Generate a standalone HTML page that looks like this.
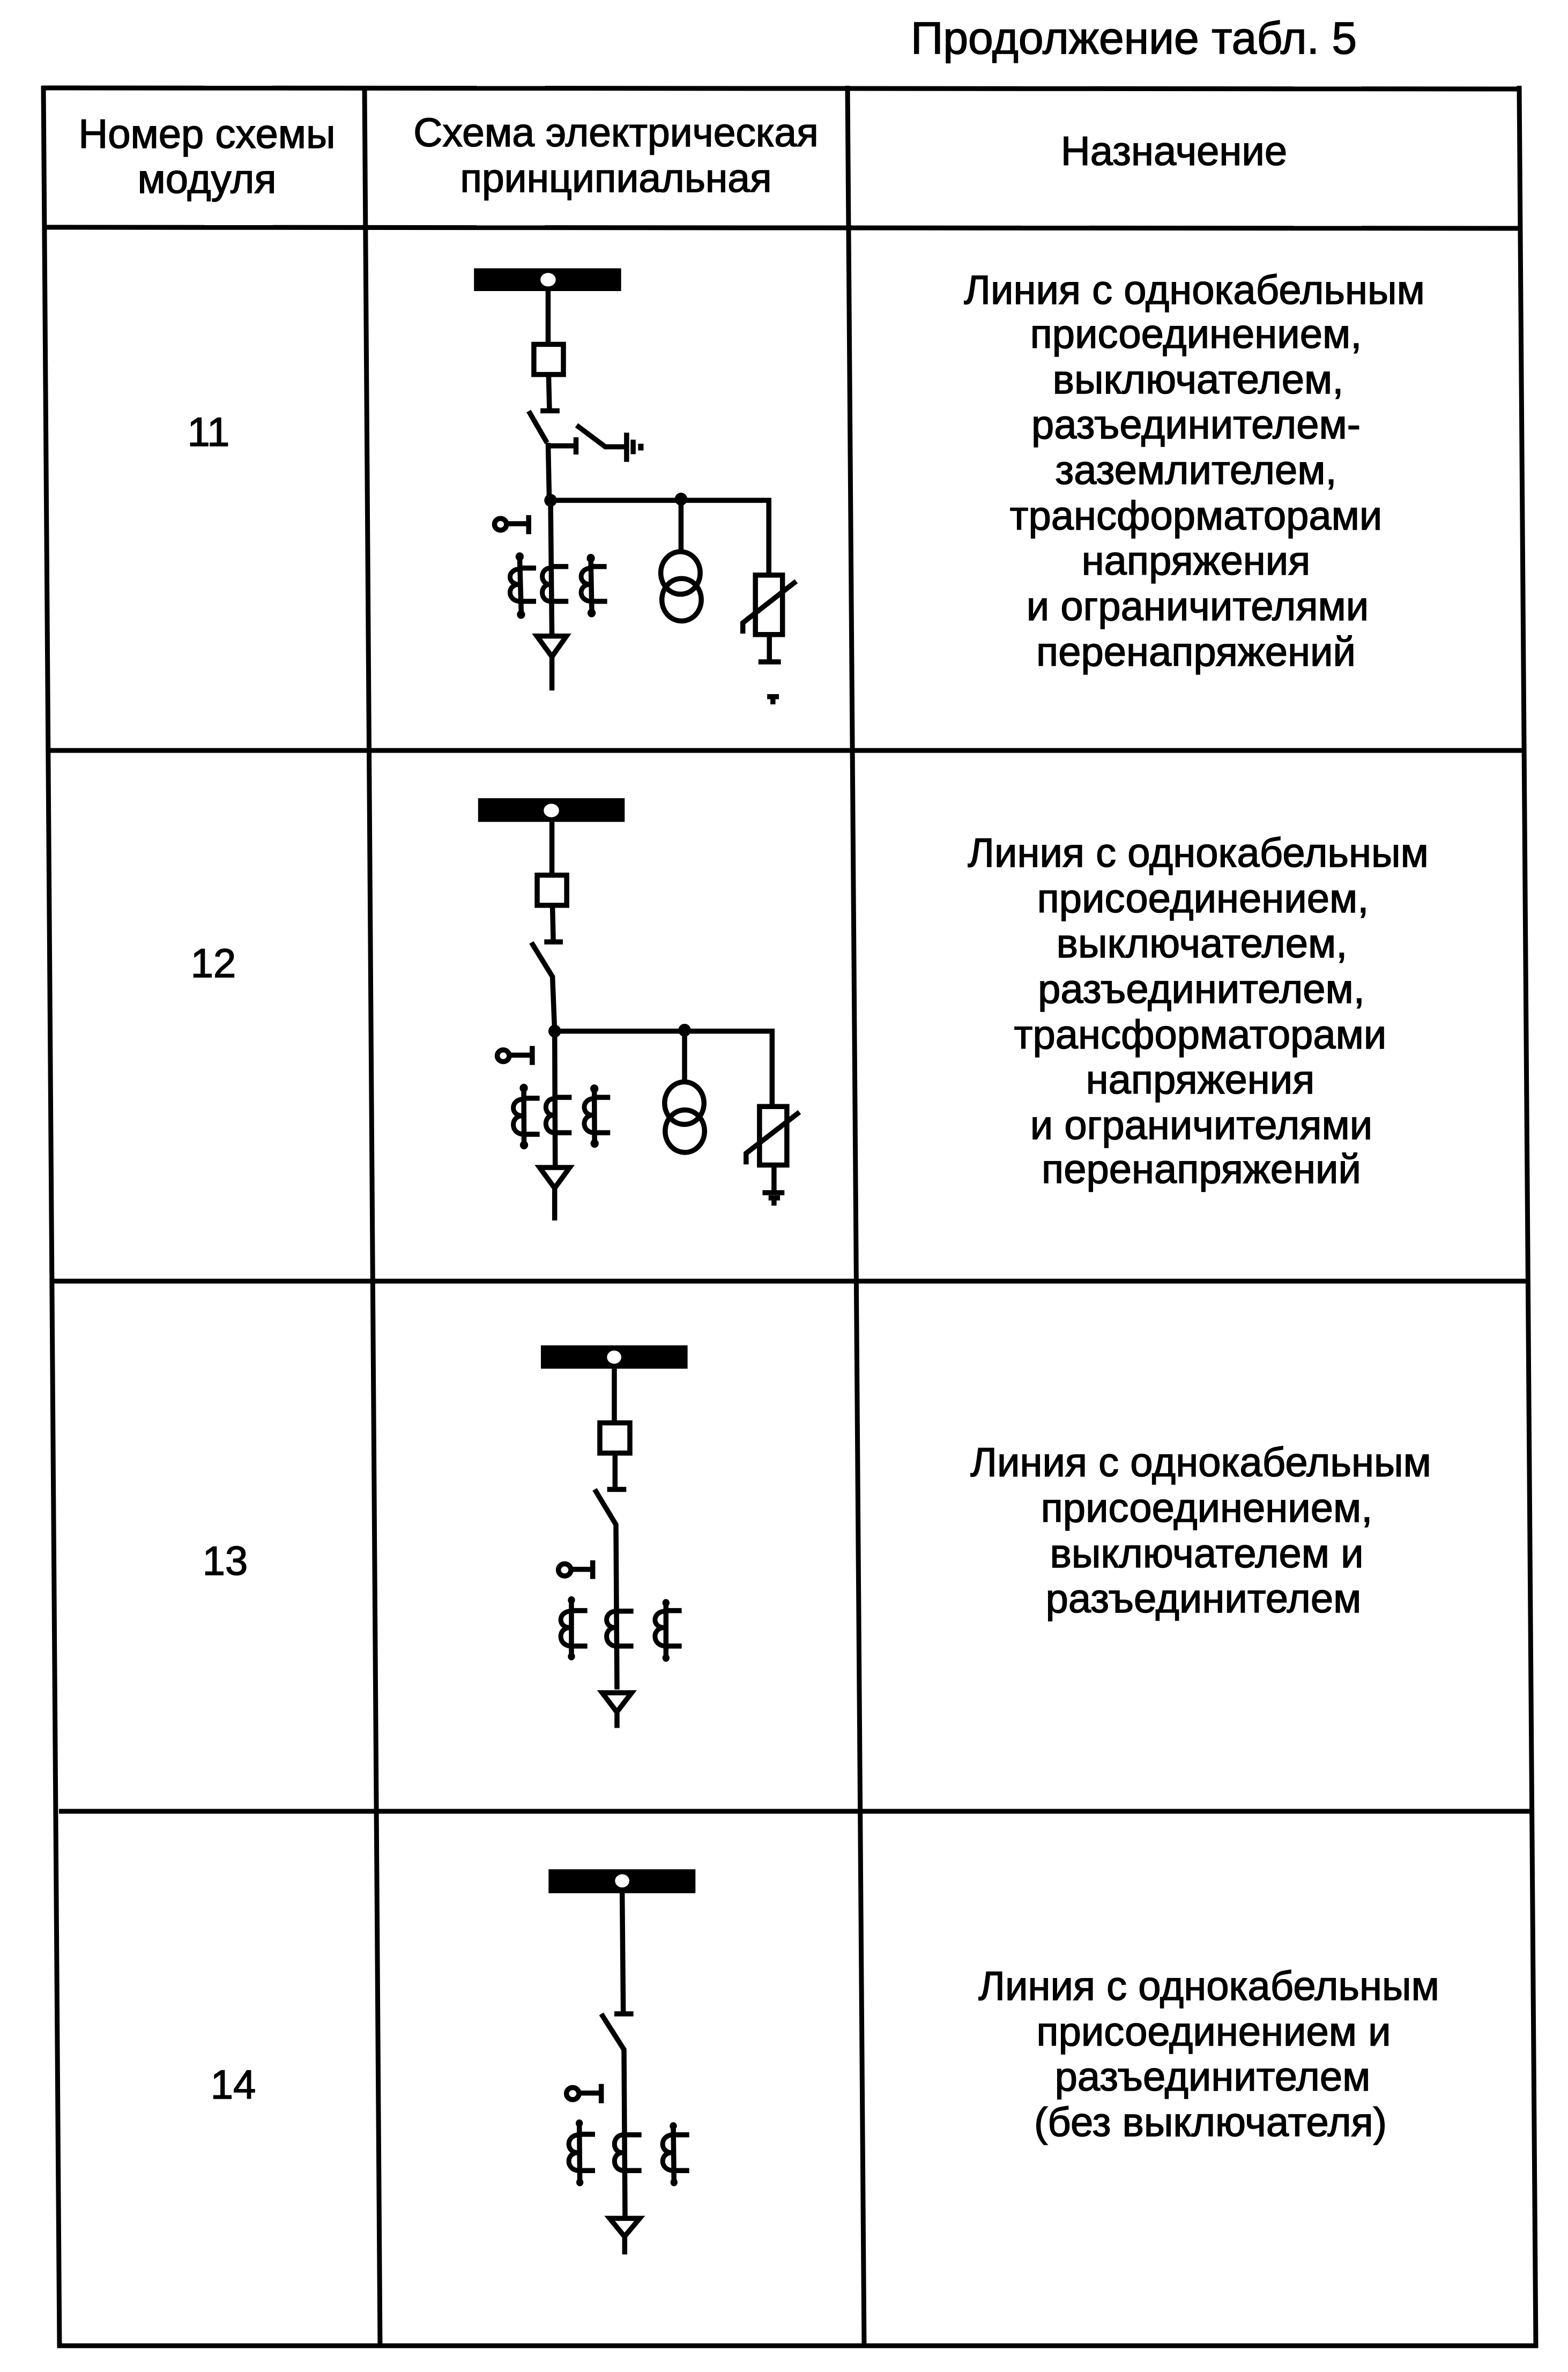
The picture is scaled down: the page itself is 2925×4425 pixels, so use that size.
<!DOCTYPE html>
<html><head><meta charset="utf-8"><style>
html,body{margin:0;padding:0;background:#fff}
svg{display:block}
text{font-family:"Liberation Sans",Arial,sans-serif;font-size:76px;fill:#000;stroke:#000;stroke-width:1.5;text-anchor:middle}
.t line{stroke:#000;stroke-width:9}
.s path,.s polygon,.s polyline,.s rect.o,.s ellipse.o{fill:none;stroke:#000;stroke-width:9.5;vector-effect:non-scaling-stroke}
.s .c{stroke-width:9}
.s .f{fill:#000;stroke:none}
.s .h{fill:#fff;stroke:none}
</style></head><body>
<svg xmlns="http://www.w3.org/2000/svg" width="2925" height="4425" viewBox="0 0 2925 4425">
<rect width="2925" height="4425" fill="#fff"/>
<g class="t">
<line x1="78" y1="164" x2="2838" y2="166"/>
<line x1="85" y1="424" x2="2838" y2="426"/>
<line x1="90" y1="1400" x2="2845" y2="1400"/>
<line x1="98" y1="2390" x2="2850" y2="2390"/>
<line x1="110" y1="3379" x2="2858" y2="3379"/>
<line x1="107" y1="4376" x2="2869" y2="4376"/>
<line x1="81" y1="160" x2="111" y2="4380"/>
<line x1="680" y1="160" x2="709" y2="4380"/>
<line x1="1581" y1="160" x2="1612" y2="4380"/>
<line x1="2834" y1="160" x2="2865" y2="4380"/>
</g>
<g>
<text x="2115" y="100" style="font-size:84px">Продолжение табл. 5</text>
<text x="386" y="276">Номер схемы</text><text x="386" y="360">модуля</text>
<text x="1149" y="273" style="font-size:75px">Схема электрическая</text><text x="1149" y="358" style="font-size:75px">принципиальная</text>
<text x="2190" y="308">Назначение</text>
<text x="389" y="832">11</text><text x="398" y="1823">12</text><text x="420" y="2938">13</text><text x="435" y="3915">14</text>
<text x="2228" y="567">Линия с однокабельным</text>
<text x="2231" y="649">присоединением,</text>
<text x="2235" y="734">выключателем,</text>
<text x="2231" y="818">разъединителем-</text>
<text x="2231" y="903">заземлителем,</text>
<text x="2231" y="988">трансформаторами</text>
<text x="2231" y="1072">напряжения</text>
<text x="2234" y="1157">и ограничителями</text>
<text x="2231" y="1242">перенапряжений</text>
<text x="2235" y="1617">Линия с однокабельным</text>
<text x="2244" y="1702">присоединением,</text>
<text x="2242" y="1786">выключателем,</text>
<text x="2241" y="1871">разъединителем,</text>
<text x="2239" y="1956">трансформаторами</text>
<text x="2239" y="2040">напряжения</text>
<text x="2241" y="2125">и ограничителями</text>
<text x="2241" y="2207">перенапряжений</text>
<text x="2240" y="2754">Линия с однокабельным</text>
<text x="2251" y="2839">присоединением,</text>
<text x="2251" y="2924">выключателем и</text>
<text x="2245" y="3008">разъединителем</text>
<text x="2255" y="3731">Линия с однокабельным</text>
<text x="2264" y="3816">присоединением и</text>
<text x="2262" y="3900">разъединителем</text>
<text x="2258" y="3985">(без выключателя)</text>
</g>

<!-- Row 11 -->
<g class="s" transform="translate(800 450) scale(0.5102 0.5741)">
<rect class="f" x="165" y="88" width="538" height="74"/>
<ellipse class="h" cx="436" cy="125" rx="28" ry="22"/>
<path d="M436 162V330"/>
<rect class="o" x="384" y="335" width="108" height="98"/>
<path d="M438 440L441 550M408 551H478"/>
<path d="M365 552L432 655M436 655L440 830M440 665H535M538 637V693"/>
<path d="M540 598L645 668H720M723 622V717M747 645V692"/>
<rect class="f" x="765" y="658" width="20" height="22"/>
<path d="M445 842H1243V1080M922 838V1005"/>
<ellipse class="f" cx="445" cy="842" rx="23" ry="21"/>
<ellipse class="f" cx="922" cy="838" rx="23" ry="21"/>
<ellipse class="o" cx="920" cy="1078" rx="72" ry="69"/>
<ellipse class="o" cx="924" cy="1165" rx="72" ry="69"/>
<path d="M445 842L450 1280M450 1350V1460"/>
<polygon points="395,1283 503,1283 450,1350"/>
<ellipse class="o c" cx="262" cy="920" rx="22" ry="19"/>
<path d="M285 918H365M365 890V952"/>
<path d="M332 1025L338 1215M333 1062H392M340 1170H392"/>
<ellipse class="f" cx="332" cy="1025" rx="15" ry="14"/><ellipse class="f" cx="337" cy="1213" rx="15" ry="14"/>
<path class="c" d="M335 1065C285 1065 285 1115 330 1115C285 1115 285 1170 335 1170"/>
<path d="M445 1057H510M445 1170H510"/>
<path class="c" d="M445 1062C405 1062 405 1115 443 1115C405 1115 405 1170 445 1170"/>
<path d="M592 1030L596 1210M592 1057H650M596 1170H652"/>
<ellipse class="f" cx="592" cy="1030" rx="15" ry="14"/><ellipse class="f" cx="595" cy="1208" rx="15" ry="14"/>
<path class="c" d="M595 1062C545 1062 545 1115 590 1115C545 1115 545 1170 595 1170"/>
<rect class="o" x="1194" y="1085" width="99" height="193"/>
<polyline points="1148,1275 1148,1240 1343,1105"/>
<path d="M1245 1285V1365M1205 1367H1287M1237 1480H1280M1258 1480V1505"/>
</g>

<!-- Row 12 -->
<g class="s" transform="translate(800 1450) scale(0.5102 0.5741)">
<rect class="f" x="180" y="68" width="536" height="77"/>
<ellipse class="h" cx="448" cy="108" rx="28" ry="22"/>
<path d="M450 145V315"/>
<rect class="o" x="396" y="318" width="108" height="98"/>
<path d="M452 420L455 533M422 535H490"/>
<path d="M375 537L452 648L460 825H1255V1065M935 822V990"/>
<ellipse class="f" cx="460" cy="825" rx="23" ry="21"/>
<ellipse class="f" cx="935" cy="822" rx="23" ry="21"/>
<ellipse class="o" cx="934" cy="1059" rx="72" ry="69"/>
<ellipse class="o" cx="936" cy="1150" rx="72" ry="69"/>
<path d="M460 825L462 1265M460 1335V1440"/>
<polygon points="405,1268 515,1268 460,1335"/>
<ellipse class="o c" cx="272" cy="905" rx="22" ry="19"/>
<path d="M295 903H378M378 873V935"/>
<path d="M347 1010L348 1195M347 1043H405M348 1160H405"/>
<ellipse class="f" cx="347" cy="1010" rx="15" ry="14"/><ellipse class="f" cx="348" cy="1195" rx="15" ry="14"/>
<path class="c" d="M347 1046C297 1046 297 1100 342 1100C297 1100 297 1160 347 1160"/>
<path d="M460 1040H522M460 1155H522"/>
<path class="c" d="M460 1044C418 1044 418 1098 456 1098C418 1098 418 1155 460 1155"/>
<path d="M605 1012L606 1190M605 1040H663M606 1155H663"/>
<ellipse class="f" cx="605" cy="1012" rx="15" ry="14"/><ellipse class="f" cx="606" cy="1190" rx="15" ry="14"/>
<path class="c" d="M605 1044C557 1044 557 1098 600 1098C557 1098 557 1155 605 1155"/>
<rect class="o" x="1209" y="1070" width="100" height="190"/>
<polyline points="1160,1258 1160,1222 1355,1088"/>
<path d="M1262 1268V1345M1220 1350H1300M1242 1367H1284M1262 1367V1392"/>
</g>

<!-- Row 13 -->
<g class="s" transform="translate(950 2480) scale(0.3333 0.5128)">
<rect class="f" x="177" y="58" width="821" height="85"/>
<ellipse class="h" cx="587" cy="101" rx="40" ry="24"/>
<path d="M588 143V335"/>
<rect class="o" x="507" y="340" width="168" height="110"/>
<path d="M592 458V580M548 582H655"/>
<path d="M478 582L597 710L603 1310M603 1392V1450"/>
<polygon points="520,1322 685,1322 602,1392"/>
<ellipse class="o c" cx="310" cy="875" rx="35" ry="22"/>
<path d="M345 873H465M467 840V908"/>
<path d="M348 985V1190M348 1023H437M348 1152H437"/>
<ellipse class="f" cx="348" cy="985" rx="20" ry="14"/><ellipse class="f" cx="348" cy="1190" rx="20" ry="14"/>
<path class="c" d="M348 1025C270 1025 270 1085 340 1085C270 1085 270 1152 348 1152"/>
<path d="M600 1025H695M600 1152H695"/>
<path class="c" d="M600 1025C528 1025 528 1085 592 1085C528 1085 528 1152 600 1152"/>
<path d="M877 995V1195M877 1023H965M877 1152H965"/>
<ellipse class="f" cx="877" cy="995" rx="20" ry="14"/><ellipse class="f" cx="877" cy="1195" rx="20" ry="14"/>
<path class="c" d="M877 1025C797 1025 797 1085 868 1085C797 1085 797 1152 877 1152"/>
</g>

<!-- Row 14 -->
<g class="s" transform="translate(980 3480) scale(0.3333 0.5128)">
<rect class="f" x="130" y="14" width="822" height="87"/>
<ellipse class="h" cx="542" cy="56" rx="40" ry="24"/>
<path d="M542 100L548 535M498 540H605"/>
<path d="M425 540L552 670L558 1275M556 1350V1415"/>
<polygon points="472,1284 640,1284 555,1350"/>
<ellipse class="o c" cx="265" cy="830" rx="35" ry="22"/>
<path d="M305 828H420M425 795V865"/>
<path d="M302 938L305 1153M302 978H390M305 1110H390"/>
<ellipse class="f" cx="302" cy="938" rx="20" ry="14"/><ellipse class="f" cx="305" cy="1153" rx="20" ry="14"/>
<path class="c" d="M302 980C225 980 225 1045 295 1045C225 1045 225 1110 302 1110"/>
<path d="M550 980H650M552 1110H650"/>
<path class="c" d="M550 980C483 980 483 1045 544 1045C483 1045 483 1110 552 1110"/>
<path d="M828 948L832 1153M828 980H917M832 1110H917"/>
<ellipse class="f" cx="828" cy="948" rx="20" ry="14"/><ellipse class="f" cx="832" cy="1153" rx="20" ry="14"/>
<path class="c" d="M828 980C750 980 750 1045 820 1045C750 1045 750 1110 830 1110"/>
</g>
</svg>
</body></html>
